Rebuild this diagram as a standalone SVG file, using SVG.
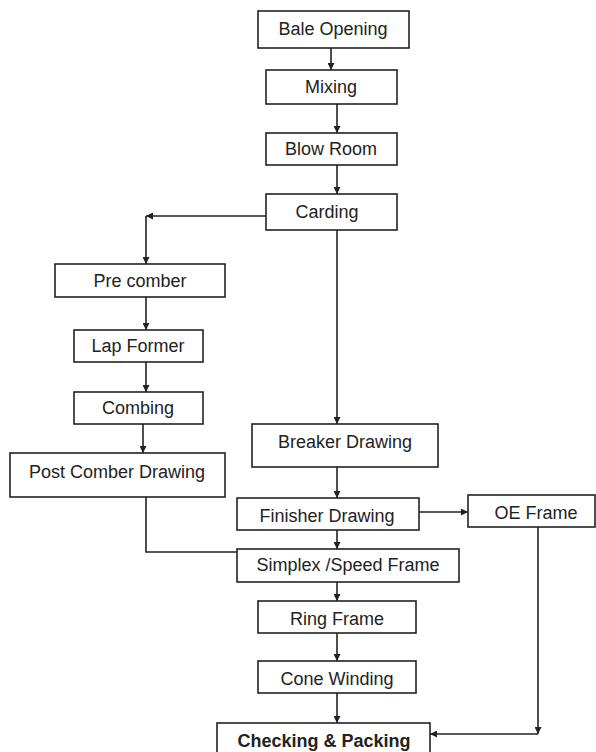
<svg xmlns="http://www.w3.org/2000/svg" width="596" height="752" viewBox="0 0 596 752">
<style>
.box{fill:#fff;stroke:#222;stroke-width:1.6}
.t{font-family:"Liberation Sans",Arial,sans-serif;font-size:18px;fill:#222;text-anchor:middle}
.b{font-weight:bold}
.c{fill:none;stroke:#222;stroke-width:1.6}
</style>
<defs>
<marker id="ah" viewBox="0 0 10 10" refX="10" refY="5" markerWidth="8" markerHeight="7" markerUnits="userSpaceOnUse" orient="auto">
<path d="M0,0 L10,5 L0,10 z" fill="#222"/>
</marker>
</defs>
<rect width="596" height="752" fill="#fff"/>
<g id="connectors">
<line class="c" x1="331" y1="48" x2="331" y2="70" marker-end="url(#ah)"/>
<line class="c" x1="337" y1="104" x2="337" y2="133" marker-end="url(#ah)"/>
<line class="c" x1="337" y1="165" x2="337" y2="194" marker-end="url(#ah)"/>
<line class="c" x1="337" y1="230" x2="337" y2="424" marker-end="url(#ah)"/>
<line class="c" x1="266" y1="216" x2="146" y2="216" marker-end="url(#ah)"/>
<line class="c" x1="146" y1="216" x2="146" y2="264" marker-end="url(#ah)"/>
<line class="c" x1="146" y1="297" x2="146" y2="330" marker-end="url(#ah)"/>
<line class="c" x1="146" y1="362" x2="146" y2="392" marker-end="url(#ah)"/>
<line class="c" x1="143" y1="424" x2="143" y2="453" marker-end="url(#ah)"/>
<polyline class="c" points="146,497 146,552 237,552"/>
<line class="c" x1="337" y1="467" x2="337" y2="498" marker-end="url(#ah)"/>
<line class="c" x1="337" y1="530" x2="337" y2="549" marker-end="url(#ah)"/>
<line class="c" x1="419" y1="512" x2="468" y2="512" marker-end="url(#ah)"/>
<line class="c" x1="337" y1="582" x2="337" y2="601" marker-end="url(#ah)"/>
<line class="c" x1="337" y1="633" x2="337" y2="661" marker-end="url(#ah)"/>
<line class="c" x1="337" y1="693" x2="337" y2="723" marker-end="url(#ah)"/>
<line class="c" x1="538" y1="527" x2="538" y2="734" marker-end="url(#ah)"/>
<line class="c" x1="538" y1="734" x2="430" y2="734" marker-end="url(#ah)"/>
</g>
<g id="bale-opening"><rect class="box" x="258" y="11" width="151" height="37"/><text class="t" x="333" y="35">Bale Opening</text></g>
<g id="mixing"><rect class="box" x="266" y="70" width="131" height="34"/><text class="t" x="331" y="93">Mixing</text></g>
<g id="blow-room"><rect class="box" x="266" y="133" width="131" height="32"/><text class="t" x="331" y="155">Blow Room</text></g>
<g id="carding"><rect class="box" x="266" y="194" width="131" height="36"/><text class="t" x="327" y="218">Carding</text></g>
<g id="pre-comber"><rect class="box" x="55" y="264" width="170" height="33"/><text class="t" x="140" y="287">Pre comber</text></g>
<g id="lap-former"><rect class="box" x="74" y="330" width="129" height="32"/><text class="t" x="138" y="352">Lap Former</text></g>
<g id="combing"><rect class="box" x="74" y="392" width="129" height="32"/><text class="t" x="138" y="414">Combing</text></g>
<g id="post-comber-drawing"><rect class="box" x="10" y="453" width="215" height="44"/><text class="t" x="117" y="478">Post Comber Drawing</text></g>
<g id="breaker-drawing"><rect class="box" x="252" y="424" width="186" height="43"/><text class="t" x="345" y="448">Breaker Drawing</text></g>
<g id="finisher-drawing"><rect class="box" x="237" y="498" width="182" height="32"/><text class="t" x="327" y="522">Finisher Drawing</text></g>
<g id="oe-frame"><rect class="box" x="468" y="495" width="127" height="32"/><text class="t" x="536" y="519">OE Frame</text></g>
<g id="simplex"><rect class="box" x="237" y="549" width="222" height="33"/><text class="t" x="348" y="571">Simplex /Speed Frame</text></g>
<g id="ring-frame"><rect class="box" x="258" y="601" width="158" height="32"/><text class="t" x="337" y="625">Ring Frame</text></g>
<g id="cone-winding"><rect class="box" x="258" y="661" width="158" height="32"/><text class="t" x="337" y="685">Cone Winding</text></g>
<g id="checking-packing"><rect class="box" x="217" y="723" width="213" height="40"/><text class="t b" x="324" y="747">Checking &amp; Packing</text></g>
</svg>
